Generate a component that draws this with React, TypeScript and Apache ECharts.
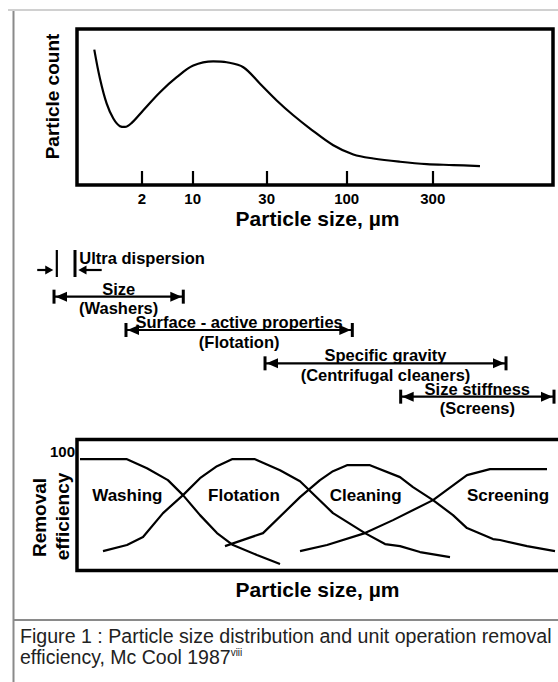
import React, { useEffect, useRef } from "react";
import * as echarts from "echarts";

const FONT = '"Liberation Sans", Arial, Helvetica, sans-serif';

// Top chart: particle count vs particle size (x in % of plot width, y in % of plot height)
const topTickPos = [13.66, 24.31, 39.85, 56.66, 74.73];
const topTickLabels = ["2", "10", "30", "100", "300"];
const particleCount = [
  [3.63, 86.8], [4.83, 68.1], [6.24, 52.1], [7.63, 42.6], [9.03, 37.7], [10.08, 37.2],
  [11.5, 39.8], [13.93, 47.9], [17.44, 59.5], [20.95, 69.1], [24.43, 76.6], [28.63, 79.3],
  [31.45, 78.7], [34.94, 75.5], [38.45, 64.9], [41.95, 54.2], [45.44, 44.7], [48.95, 36.2],
  [53.84, 25.5], [58.05, 19.6], [62.25, 17.0], [67.86, 14.9], [73.47, 13.4], [79.05, 12.8],
  [84.66, 12.1],
];

// Middle: separation principle ranges
const rangeStart = [-4.26, -4.83, 10.29, 39.5, 68.0];
const rangeEnd = [-0.42, 22.33, 57.84, 90.13, 100.21];
const rangeLevel = [0.2, 1, 2, 3, 4];
const rangeInward = [true, false, false, false, false];
const rangeTop = ["Ultra dispersion", "Size", "Surface - active properties", "Specific gravity", "Size stiffness"];
const rangeBottom = ["", "(Washers)", "(Flotation)", "(Centrifugal cleaners)", "(Screens)"];

// Bottom chart: removal efficiency curves
const washing = [
  [0.63, 93.5], [10.5, 93.5], [14.7, 85.9], [19.1, 75.9], [22.27, 63.3], [25.84, 46.5],
  [29.41, 31.4], [32.77, 21.4], [37.8, 13.0], [42.65, 5.4],
];
const flotation = [
  [5.46, 16.3], [10.5, 21.4], [13.87, 28.1], [18.07, 48.2], [22.27, 63.3], [25.84, 77.5],
  [29.41, 87.6], [32.56, 93.5], [37.39, 93.5], [42.65, 84.2], [46.85, 74.9], [53.78, 48.2],
  [60.5, 31.4], [64.71, 22.2], [67.86, 20.5], [72.06, 15.5], [78.36, 11.3],
];
const cleaning = [
  [31.09, 20.5], [39.08, 31.4], [46.85, 61.6], [51.05, 75.9], [53.78, 83.4], [56.72, 88.4],
  [61.55, 88.4], [67.86, 78.4], [70.59, 70.0], [74.79, 59.1], [78.99, 46.5], [81.93, 35.6],
  [87.39, 26.4], [88.87, 25.6], [94.54, 20.5], [100.42, 16.3],
];
const screening = [
  [46.85, 16.3], [52.52, 21.4], [60.5, 31.4], [66.39, 42.3], [74.79, 59.1], [81.93, 80.1],
  [86.76, 85.1], [98.74, 85.1],
];
const processNames = ["Washing", "Flotation", "Cleaning", "Screening"];
const processLabelX = [10.57, 35.08, 60.65, 90.55];
const processLabelY = 62.7;

function textEl(text: string, x: number, y: number, align: string, font: string) {
  return {
    type: "text",
    style: {
      text, x, y, font, fill: "#000",
      align, verticalAlign: "middle", textAlign: align, textVerticalAlign: "middle",
    },
  };
}

function rangeRender(params: any, api: any) {
  const i = params.dataIndex;
  const p1 = api.coord([api.value(0), api.value(2)]);
  const p2 = api.coord([api.value(1), api.value(2)]);
  const x1 = p1[0], x2 = p2[0], y = p1[1];
  const fill = { fill: "#000" };
  const stroke = { stroke: "#000", lineWidth: 2.2 };
  const font = `bold 16.5px ${FONT}`;
  const ch: any[] = [];
  if (rangeInward[i]) {
    ch.push({ type: "rect", shape: { x: x1 - 1, y: y - 20, width: 2.2, height: 27 }, style: fill });
    ch.push({ type: "rect", shape: { x: x2 - 1.5, y: y - 20, width: 3, height: 27 }, style: fill });
    ch.push({ type: "line", shape: { x1: x1 - 19.5, y1: y, x2: x1 - 10, y2: y }, style: stroke });
    ch.push({ type: "polygon", shape: { points: [[x1 - 11.5, y - 4.5], [x1 - 3.4, y], [x1 - 11.5, y + 4.5]] }, style: fill });
    ch.push({ type: "line", shape: { x1: x2 + 10, y1: y, x2: x2 + 26.7, y2: y }, style: stroke });
    ch.push({ type: "polygon", shape: { points: [[x2 + 11.5, y - 4.5], [x2 + 3.3, y], [x2 + 11.5, y + 4.5]] }, style: fill });
    ch.push(textEl(rangeTop[i], x2 + 4.3, y - 11.7, "left", font));
  } else {
    ch.push({ type: "line", shape: { x1, y1: y, x2, y2: y }, style: stroke });
    ch.push({ type: "rect", shape: { x: x1 - 1.5, y: y - 7, width: 3, height: 14 }, style: fill });
    ch.push({ type: "rect", shape: { x: x2 - 1.5, y: y - 7, width: 3, height: 14 }, style: fill });
    ch.push({ type: "polygon", shape: { points: [[x1 + 1.5, y], [x1 + 13, y - 5], [x1 + 13, y + 5]] }, style: fill });
    ch.push({ type: "polygon", shape: { points: [[x2 - 1.5, y], [x2 - 13, y - 5], [x2 - 13, y + 5]] }, style: fill });
    const cx = (x1 + x2) / 2;
    ch.push(textEl(rangeTop[i], cx, y - 8, "center", font));
    ch.push(textEl(rangeBottom[i], cx, y + 11.5, "center", font));
  }
  return { type: "group", children: ch };
}

function lineSeries(data: number[][]) {
  return {
    type: "line",
    xAxisIndex: 2,
    yAxisIndex: 2,
    data,
    symbol: "none",
    smooth: false,
    lineStyle: { color: "#000", width: 2.2, join: "round" },
    silent: true,
  };
}

function gText(text: string, x: number, y: number, font: string, rotation = 0, align = "center", fill = "#000") {
  return {
    type: "text",
    x, y, rotation,
    style: { text, x: 0, y: 0, font, fill, align, verticalAlign: "middle", textAlign: align, textVerticalAlign: "middle" },
  };
}

export default function App() {
  const ref = useRef<HTMLDivElement>(null);
  useEffect(() => {
    document.body.style.margin = "0";
    const chart = echarts.init(ref.current!, null, { renderer: "svg", width: 558, height: 682 });
    const option: any = {
      animation: false,
      backgroundColor: "#fff",
      grid: [
        { left: 77, top: 29, width: 476, height: 156, show: true, borderColor: "#000", borderWidth: 3.5, outerBoundsMode: "none" },
        { left: 77, top: 230, width: 476, height: 200, show: false, outerBoundsMode: "none" },
        { left: 77, top: 439.5, width: 500, height: 131, show: true, borderColor: "#000", borderWidth: 3.5, outerBoundsMode: "none" },
      ],
      xAxis: [
        {
          gridIndex: 0, type: "value", min: 0, max: 100,
          axisLine: { show: false }, splitLine: { show: false },
          axisTick: { show: true, inside: true, length: 14, customValues: topTickPos, lineStyle: { color: "#000", width: 2.2 } },
          axisLabel: {
            show: true, customValues: topTickPos,
            formatter: (v: number) => topTickLabels[topTickPos.indexOf(v)] ?? "",
            margin: 6, fontSize: 15, fontWeight: "bold", color: "#000", fontFamily: FONT,
          },
        },
        { gridIndex: 1, type: "value", min: 0, max: 100, show: false },
        { gridIndex: 2, type: "value", min: 0, max: 500 / 4.76, show: false },
      ],
      yAxis: [
        { gridIndex: 0, type: "value", min: 0, max: 100, show: false },
        { gridIndex: 1, type: "value", min: -1, max: 5, inverse: true, show: false },
        {
          gridIndex: 2, type: "value", min: 0, max: 110,
          axisLine: { show: false }, axisTick: { show: false }, splitLine: { show: false },
          axisLabel: { customValues: [100], margin: 2, fontSize: 15, fontWeight: "bold", color: "#000", fontFamily: FONT },
        },
      ],
      series: [
        {
          type: "line", xAxisIndex: 0, yAxisIndex: 0, data: particleCount,
          symbol: "none", smooth: 0.35, lineStyle: { color: "#000", width: 2.2 }, silent: true,
        },
        {
          type: "custom", xAxisIndex: 1, yAxisIndex: 1, coordinateSystem: "cartesian2d",
          data: rangeStart.map((s, i) => [s, rangeEnd[i], rangeLevel[i]]),
          encode: { x: [0, 1], y: 2 }, renderItem: rangeRender, clip: false, silent: true,
        },
        lineSeries(washing),
        lineSeries(flotation),
        lineSeries(cleaning),
        lineSeries(screening),
        {
          type: "scatter", xAxisIndex: 2, yAxisIndex: 2, symbolSize: 0,
          itemStyle: { color: "#000", opacity: 0 }, silent: true,
          data: processNames.map((n, i) => ({ name: n, value: [processLabelX[i], processLabelY] })),
          label: {
            show: true, position: "inside", formatter: "{b}", opacity: 1,
            textBorderWidth: 0, textBorderColor: "transparent",
            fontSize: 17, fontWeight: "bold", color: "#000", fontFamily: FONT,
          },
        },
      ],
      graphic: [
        { type: "line", shape: { x1: 8, y1: 10, x2: 558, y2: 10 }, style: { stroke: "#d0d0d0", lineWidth: 2 } },
        { type: "line", shape: { x1: 13.5, y1: 11, x2: 13.5, y2: 682 }, style: { stroke: "#8a8a8a", lineWidth: 2 } },
        { type: "line", shape: { x1: 13, y1: 620, x2: 558, y2: 620 }, style: { stroke: "#8a8a8a", lineWidth: 2 } },
        gText("Particle count", 52, 96.5, `bold 19px ${FONT}`, Math.PI / 2),
        gText("Particle size, µm", 317.5, 218, `bold 21px ${FONT}`),
        gText("Removal", 39, 517.5, `bold 19px ${FONT}`, Math.PI / 2),
        gText("efficiency", 62, 516.5, `bold 19px ${FONT}`, Math.PI / 2),
        gText("Particle size, µm", 317.5, 589, `bold 21px ${FONT}`),
        gText("Figure 1 : Particle size distribution and unit operation removal", 20, 636, `19.6px ${FONT}`, 0, "left", "#222"),
        {
          type: "text", x: 20, y: 657,
          style: {
            text: "{a|efficiency, Mc Cool 1987}{s|viii}",
            x: 0, y: 0, align: "left", verticalAlign: "middle", textAlign: "left", textVerticalAlign: "middle",
            rich: {
              a: { fontSize: 19.5, fontFamily: FONT, fill: "#222", color: "#222", lineHeight: 20 },
              s: { fontSize: 10, fontFamily: FONT, fill: "#222", color: "#222", verticalAlign: "top", lineHeight: 20 },
            },
          },
        },
      ],
    };
    chart.setOption(option);
    return () => chart.dispose();
  }, []);
  return <div ref={ref} style={{ width: 558, height: 682, position: "absolute", left: 0, top: 0 }} />;
}
